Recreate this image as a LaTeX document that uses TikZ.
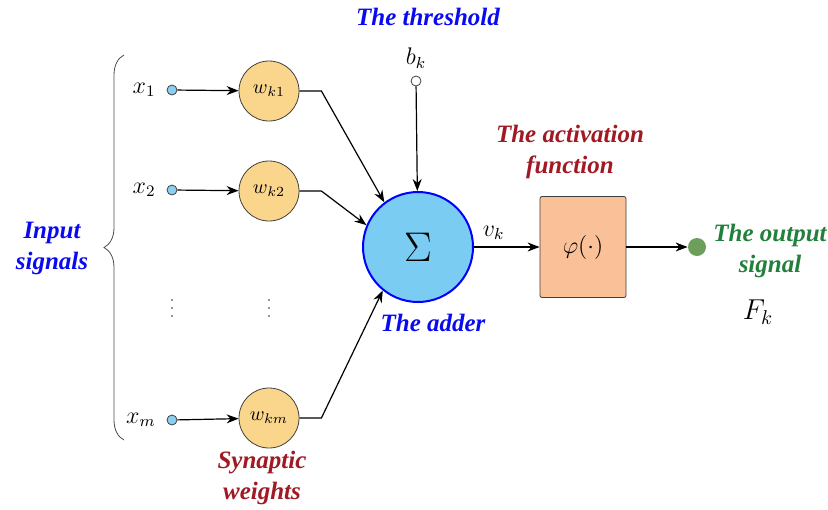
\documentclass[tikz,border=0pt]{standalone}
\usepackage{amsmath}
\usepackage{fontspec}
\setmainfont{Liberation Serif}
\usepackage{tikz}
\usetikzlibrary{arrows.meta, positioning, decorations.pathreplacing}

\definecolor{wfill}{RGB}{250,214,140}
\definecolor{sumfill}{RGB}{122,204,242}
\definecolor{boxfill}{RGB}{250,192,152}
\definecolor{inpfill}{RGB}{140,206,240}
\definecolor{outfill}{RGB}{110,158,92}
\definecolor{lblblue}{RGB}{10,10,240}
\definecolor{lblred}{RGB}{160,25,35}
\definecolor{lblgreen}{RGB}{35,128,60}

\begin{document}
\begin{tikzpicture}[
    x=0.5pt, y=-0.5pt,
    inp/.style={circle, draw=black!75, fill=inpfill, inner sep=0pt, minimum size=5pt},
    weight/.style={circle, draw=black!75, fill=wfill, inner sep=0pt, minimum size=30pt, font=\normalsize},
    adder/.style={circle, draw=blue, line width=1pt, fill=sumfill, inner sep=0pt, minimum size=55pt, font=\huge},
    actbox/.style={draw=black!75, fill=boxfill, rounded corners=1pt, minimum width=43pt, minimum height=50.5pt, font=\large},
    arrow/.style={-{Stealth[length=6pt, width=4.5pt]}, semithick},
    label/.style={font=\fontsize{12.5}{15.5}\selectfont\bfseries\itshape, align=center},
    sym/.style={font=\large}
]
\useasboundingbox (0,0) rectangle (828,509);

% Inputs and weights
\node[inp] (in1) at (172,90) {};
\node[inp] (in2) at (172,190) {};
\node[inp] (inm) at (172,420) {};
\node[weight] (wk1) at (269,91) {$w_{k1}$};
\node[weight] (wk2) at (269,191) {$w_{k2}$};
\node[weight] (wkm) at (269,418) {$w_{km}$};
\node[sym, left=2pt of in1] (lx1) {$x_1$};
\node[sym, left=2pt of in2] (lx2) {$x_2$};
\node[sym, left=2pt of inm] (lxm) {$x_m$};

% Dots between x_2 and x_m
\foreach \xd in {172, 269}
  \foreach \yd in {300, 308, 316}
    \fill[black!55] (\xd,\yd) circle (0.6pt);

% Adder and threshold
\node[adder] (sum) at (418,247) {$\Sigma$};
\node[inp, fill=white] (bias) at (416,81) {};
\node[sym, above=0pt of bias] (lbk) {$b_k$};

% Activation and output
\node[actbox] (phi) at (583,247) {$\varphi(\cdot)$};
\node[circle, fill=outfill, inner sep=0pt, minimum size=9pt] (out) at (697,247) {};
\node[font=\Large] (lfk) at (758,312) {$F_k$};

% Brace
\coordinate (brtop) at (124,55);
\coordinate (brbot) at (124,440);
\draw[black!70, decorate, decoration={brace, amplitude=10pt}] (brbot) -- (brtop);

% Labels
\node[label, text=lblblue] (lthr) at (428,17) {The threshold};
\node[label, text=lblblue] (ladd) at (433,323) {The adder};
\node[label, text=lblblue] (linp) at (52,248) {Input\\signals};
\node[label, text=lblred] (lact) at (570,152) {The activation\\function};
\node[label, text=lblred] (lsyn) at (262,478) {Synaptic\\weights};
\node[label, text=lblgreen] (lout) at (770,251) {The output\\signal};

% Arrows
\draw[arrow] (in1) -- (wk1);
\draw[arrow] (in2) -- (wk2);
\draw[arrow] (inm) -- (wkm);
\draw[arrow] (wk1.east) -- ++(22,0) -- (sum.127);
\draw[arrow] (wk2.east) -- ++(22,0) -- (sum.157);
\draw[arrow] (wkm.east) -- ++(22,0) -- (sum.231);
\draw[arrow] (bias) -- (sum);
\draw[arrow] (sum) -- node[sym, above, pos=0.3] (lvk) {$v_k$} (phi);
\draw[arrow] (phi) -- (out);

\end{tikzpicture}
\end{document}
